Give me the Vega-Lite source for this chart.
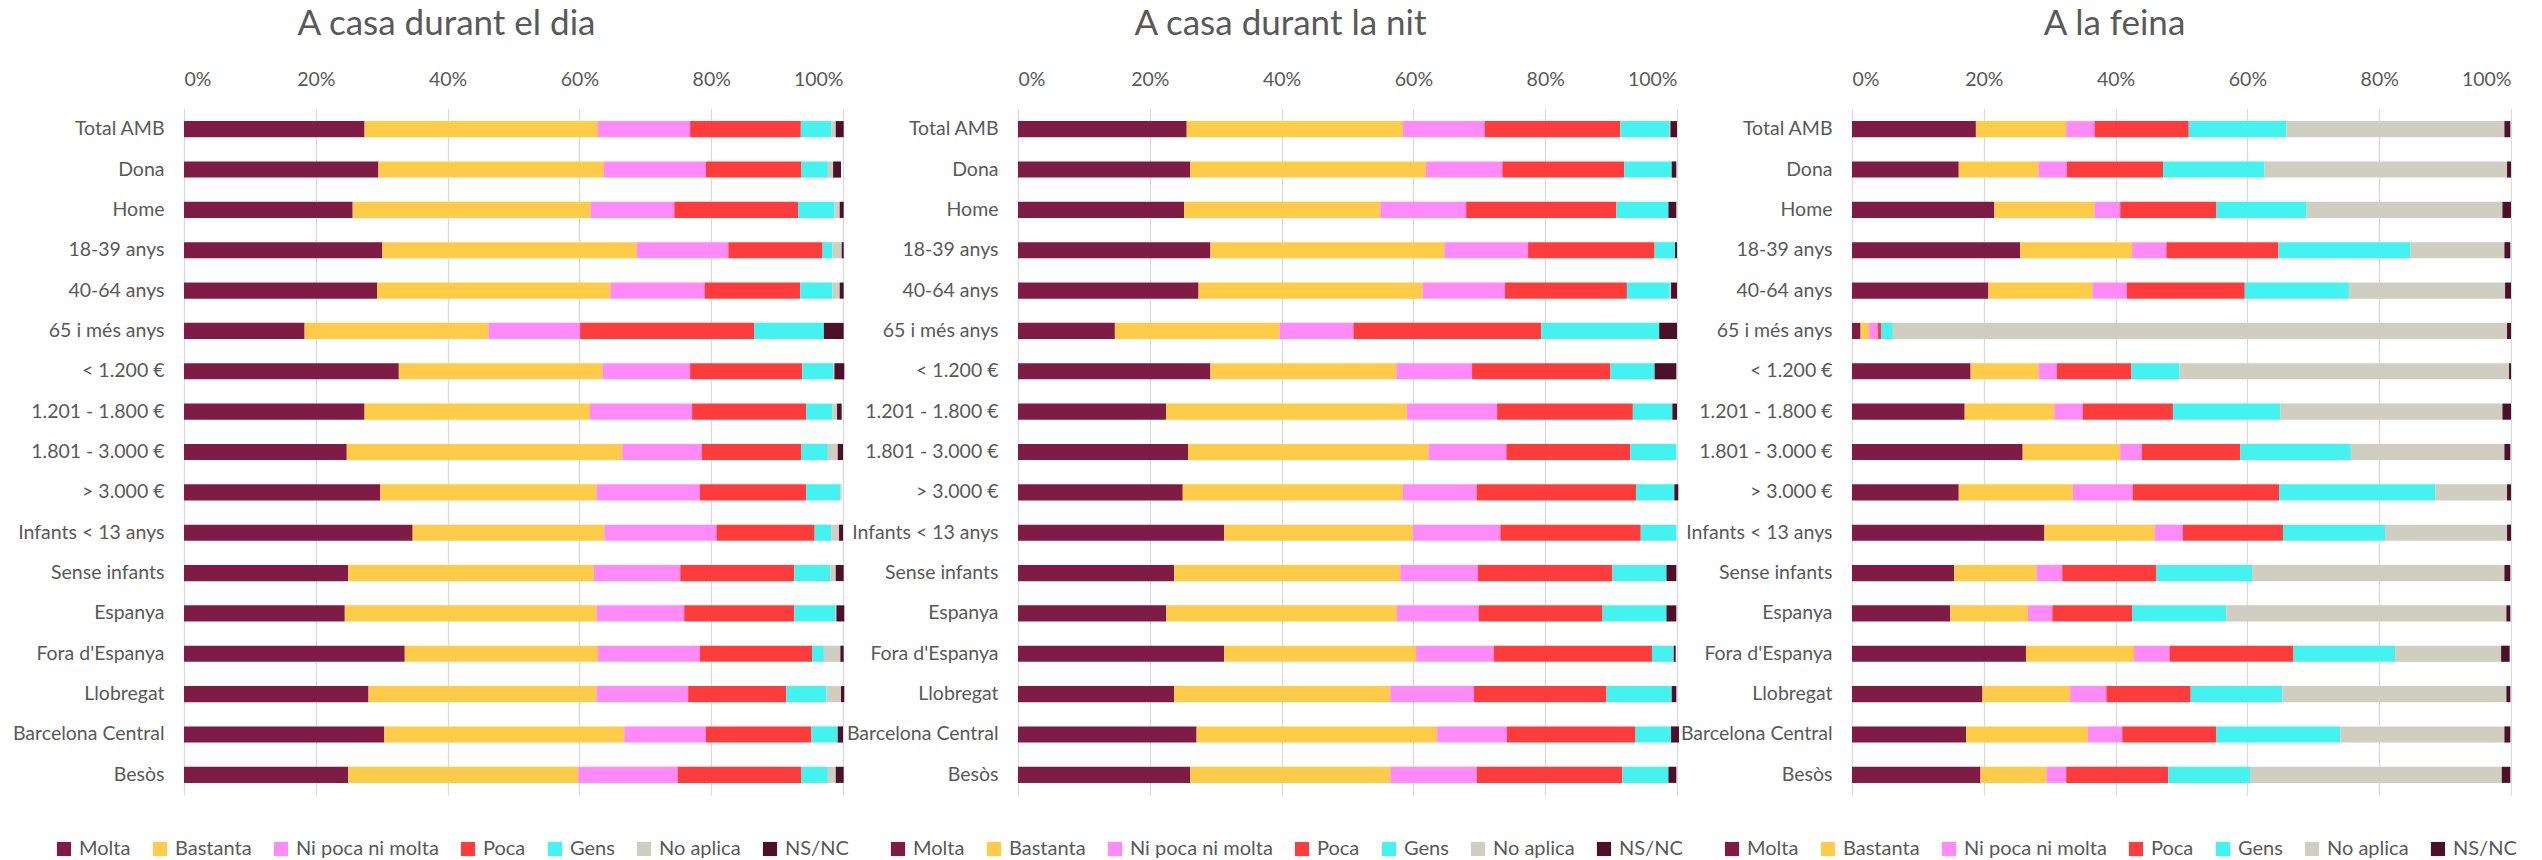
{
  "$schema": "https://vega.github.io/schema/vega-lite/v6.json",
  "padding": {"left": 12, "top": 7, "right": 5, "bottom": 0},
  "background": "white",
  "datasets": {
    "dia": [
      {"g": "Total AMB", "Molta": 27.4, "Bastanta": 35.4, "Ni poca ni molta": 14.0, "Poca": 16.8, "Gens": 4.6, "No aplica": 0.7, "NS/NC": 1.2},
      {"g": "Dona", "Molta": 29.5, "Bastanta": 34.2, "Ni poca ni molta": 15.5, "Poca": 14.5, "Gens": 4.0, "No aplica": 0.8, "NS/NC": 1.2},
      {"g": "Home", "Molta": 25.6, "Bastanta": 36.1, "Ni poca ni molta": 12.7, "Poca": 18.8, "Gens": 5.5, "No aplica": 0.8, "NS/NC": 0.6},
      {"g": "18-39 anys", "Molta": 30.1, "Bastanta": 38.6, "Ni poca ni molta": 13.9, "Poca": 14.3, "Gens": 1.5, "No aplica": 1.4, "NS/NC": 0.3},
      {"g": "40-64 anys", "Molta": 29.3, "Bastanta": 35.4, "Ni poca ni molta": 14.3, "Poca": 14.5, "Gens": 4.9, "No aplica": 1.1, "NS/NC": 0.6},
      {"g": "65 i més anys", "Molta": 18.3, "Bastanta": 27.9, "Ni poca ni molta": 13.9, "Poca": 26.4, "Gens": 10.6, "No aplica": 0, "NS/NC": 3.0},
      {"g": "< 1.200 €", "Molta": 32.6, "Bastanta": 30.9, "Ni poca ni molta": 13.3, "Poca": 17.0, "Gens": 4.7, "No aplica": 0.2, "NS/NC": 1.5},
      {"g": "1.201 - 1.800 €", "Molta": 27.4, "Bastanta": 34.2, "Ni poca ni molta": 15.5, "Poca": 17.3, "Gens": 4.0, "No aplica": 0.7, "NS/NC": 0.7},
      {"g": "1.801 - 3.000 €", "Molta": 24.7, "Bastanta": 41.8, "Ni poca ni molta": 12.1, "Poca": 15.1, "Gens": 4.0, "No aplica": 1.5, "NS/NC": 0.8},
      {"g": "> 3.000 €", "Molta": 29.8, "Bastanta": 32.8, "Ni poca ni molta": 15.7, "Poca": 16.1, "Gens": 5.2, "No aplica": 0.2, "NS/NC": 0},
      {"g": "Infants < 13 anys", "Molta": 34.7, "Bastanta": 29.1, "Ni poca ni molta": 17.0, "Poca": 14.9, "Gens": 2.5, "No aplica": 1.2, "NS/NC": 0.6},
      {"g": "Sense infants", "Molta": 24.9, "Bastanta": 37.3, "Ni poca ni molta": 13.1, "Poca": 17.3, "Gens": 5.5, "No aplica": 0.8, "NS/NC": 1.2},
      {"g": "Espanya", "Molta": 24.4, "Bastanta": 38.2, "Ni poca ni molta": 13.3, "Poca": 16.7, "Gens": 6.2, "No aplica": 0.2, "NS/NC": 1.2},
      {"g": "Fora d'Espanya", "Molta": 33.5, "Bastanta": 29.3, "Ni poca ni molta": 15.5, "Poca": 17.0, "Gens": 1.8, "No aplica": 2.5, "NS/NC": 0.5},
      {"g": "Llobregat", "Molta": 28.0, "Bastanta": 34.6, "Ni poca ni molta": 13.9, "Poca": 14.9, "Gens": 6.1, "No aplica": 2.2, "NS/NC": 0.5},
      {"g": "Barcelona Central", "Molta": 30.4, "Bastanta": 36.4, "Ni poca ni molta": 12.4, "Poca": 16.0, "Gens": 4.0, "No aplica": 0, "NS/NC": 0.8},
      {"g": "Besòs", "Molta": 24.9, "Bastanta": 34.9, "Ni poca ni molta": 15.1, "Poca": 18.8, "Gens": 4.0, "No aplica": 1.2, "NS/NC": 1.2}
    ],
    "nit": [
      {"g": "Total AMB", "Molta": 25.6, "Bastanta": 32.8, "Ni poca ni molta": 12.4, "Poca": 20.6, "Gens": 7.4, "No aplica": 0.2, "NS/NC": 1.0},
      {"g": "Dona", "Molta": 26.1, "Bastanta": 35.8, "Ni poca ni molta": 11.6, "Poca": 18.5, "Gens": 7.2, "No aplica": 0, "NS/NC": 0.7},
      {"g": "Home", "Molta": 25.2, "Bastanta": 29.8, "Ni poca ni molta": 13.0, "Poca": 22.8, "Gens": 7.9, "No aplica": 0, "NS/NC": 1.2},
      {"g": "18-39 anys", "Molta": 29.2, "Bastanta": 35.5, "Ni poca ni molta": 12.7, "Poca": 19.2, "Gens": 3.1, "No aplica": 0, "NS/NC": 0.3},
      {"g": "40-64 anys", "Molta": 27.4, "Bastanta": 34.0, "Ni poca ni molta": 12.5, "Poca": 18.5, "Gens": 6.5, "No aplica": 0.2, "NS/NC": 0.9},
      {"g": "65 i més anys", "Molta": 14.7, "Bastanta": 25.0, "Ni poca ni molta": 11.2, "Poca": 28.5, "Gens": 17.9, "No aplica": 0, "NS/NC": 2.7},
      {"g": "< 1.200 €", "Molta": 29.2, "Bastanta": 28.2, "Ni poca ni molta": 11.5, "Poca": 21.0, "Gens": 6.7, "No aplica": 0, "NS/NC": 3.3},
      {"g": "1.201 - 1.800 €", "Molta": 22.5, "Bastanta": 36.5, "Ni poca ni molta": 13.7, "Poca": 20.6, "Gens": 6.0, "No aplica": 0, "NS/NC": 0.7},
      {"g": "1.801 - 3.000 €", "Molta": 25.8, "Bastanta": 36.5, "Ni poca ni molta": 11.8, "Poca": 18.8, "Gens": 7.0, "No aplica": 0, "NS/NC": 0},
      {"g": "> 3.000 €", "Molta": 25.0, "Bastanta": 33.4, "Ni poca ni molta": 11.2, "Poca": 24.2, "Gens": 5.8, "No aplica": 0, "NS/NC": 0.6},
      {"g": "Infants < 13 anys", "Molta": 31.3, "Bastanta": 28.6, "Ni poca ni molta": 13.3, "Poca": 21.3, "Gens": 5.4, "No aplica": 0, "NS/NC": 0},
      {"g": "Sense infants", "Molta": 23.7, "Bastanta": 34.3, "Ni poca ni molta": 11.8, "Poca": 20.4, "Gens": 8.2, "No aplica": 0, "NS/NC": 1.5},
      {"g": "Espanya", "Molta": 22.5, "Bastanta": 35.0, "Ni poca ni molta": 12.4, "Poca": 18.8, "Gens": 9.7, "No aplica": 0, "NS/NC": 1.5},
      {"g": "Fora d'Espanya", "Molta": 31.3, "Bastanta": 29.1, "Ni poca ni molta": 11.8, "Poca": 24.0, "Gens": 3.2, "No aplica": 0.1, "NS/NC": 0.3},
      {"g": "Llobregat", "Molta": 23.7, "Bastanta": 32.8, "Ni poca ni molta": 12.7, "Poca": 20.1, "Gens": 9.9, "No aplica": 0, "NS/NC": 0.7},
      {"g": "Barcelona Central", "Molta": 27.1, "Bastanta": 36.5, "Ni poca ni molta": 10.6, "Poca": 19.5, "Gens": 5.4, "No aplica": 0, "NS/NC": 1.2},
      {"g": "Besòs", "Molta": 26.1, "Bastanta": 30.4, "Ni poca ni molta": 13.1, "Poca": 22.1, "Gens": 7.0, "No aplica": 0, "NS/NC": 1.2}
    ],
    "feina": [
      {"g": "Total AMB", "Molta": 18.8, "Bastanta": 13.7, "Ni poca ni molta": 4.3, "Poca": 14.3, "Gens": 14.8, "No aplica": 33.1, "NS/NC": 0.9},
      {"g": "Dona", "Molta": 16.2, "Bastanta": 12.1, "Ni poca ni molta": 4.3, "Poca": 14.6, "Gens": 15.4, "No aplica": 36.8, "NS/NC": 0.6},
      {"g": "Home", "Molta": 21.6, "Bastanta": 15.2, "Ni poca ni molta": 3.9, "Poca": 14.6, "Gens": 13.7, "No aplica": 29.7, "NS/NC": 1.3},
      {"g": "18-39 anys", "Molta": 25.5, "Bastanta": 17.0, "Ni poca ni molta": 5.2, "Poca": 17.0, "Gens": 20.0, "No aplica": 14.3, "NS/NC": 0.9},
      {"g": "40-64 anys", "Molta": 20.7, "Bastanta": 15.8, "Ni poca ni molta": 5.2, "Poca": 17.9, "Gens": 15.8, "No aplica": 23.7, "NS/NC": 0.9},
      {"g": "65 i més anys", "Molta": 1.3, "Bastanta": 1.3, "Ni poca ni molta": 1.3, "Poca": 0.5, "Gens": 1.8, "No aplica": 93.2, "NS/NC": 0.6},
      {"g": "< 1.200 €", "Molta": 18.0, "Bastanta": 10.3, "Ni poca ni molta": 2.8, "Poca": 11.3, "Gens": 7.3, "No aplica": 50.0, "NS/NC": 0.3},
      {"g": "1.201 - 1.800 €", "Molta": 17.1, "Bastanta": 13.6, "Ni poca ni molta": 4.3, "Poca": 13.7, "Gens": 16.3, "No aplica": 33.7, "NS/NC": 1.3},
      {"g": "1.801 - 3.000 €", "Molta": 25.9, "Bastanta": 14.8, "Ni poca ni molta": 3.3, "Poca": 14.9, "Gens": 16.8, "No aplica": 23.3, "NS/NC": 0.9},
      {"g": "> 3.000 €", "Molta": 16.2, "Bastanta": 17.3, "Ni poca ni molta": 9.1, "Poca": 22.2, "Gens": 23.7, "No aplica": 10.9, "NS/NC": 0.6},
      {"g": "Infants < 13 anys", "Molta": 29.2, "Bastanta": 16.7, "Ni poca ni molta": 4.3, "Poca": 15.2, "Gens": 15.5, "No aplica": 18.5, "NS/NC": 0.6},
      {"g": "Sense infants", "Molta": 15.5, "Bastanta": 12.5, "Ni poca ni molta": 3.9, "Poca": 14.3, "Gens": 14.5, "No aplica": 38.3, "NS/NC": 0.9},
      {"g": "Espanya", "Molta": 14.9, "Bastanta": 11.8, "Ni poca ni molta": 3.7, "Poca": 12.1, "Gens": 14.3, "No aplica": 42.5, "NS/NC": 0.6},
      {"g": "Fora d'Espanya", "Molta": 26.4, "Bastanta": 16.4, "Ni poca ni molta": 5.4, "Poca": 18.8, "Gens": 15.4, "No aplica": 16.1, "NS/NC": 1.3},
      {"g": "Llobregat", "Molta": 19.8, "Bastanta": 13.3, "Ni poca ni molta": 5.5, "Poca": 12.8, "Gens": 13.9, "No aplica": 34.0, "NS/NC": 0.6},
      {"g": "Barcelona Central", "Molta": 17.3, "Bastanta": 18.5, "Ni poca ni molta": 5.2, "Poca": 14.3, "Gens": 18.8, "No aplica": 24.9, "NS/NC": 0.9},
      {"g": "Besòs", "Molta": 19.5, "Bastanta": 10.0, "Ni poca ni molta": 3.0, "Poca": 15.5, "Gens": 12.4, "No aplica": 38.2, "NS/NC": 1.3}
    ]
  },
  "config": {
    "font": "Lato",
    "view": {"stroke": null},
    "axis": {"labelFont": "Lato", "labelColor": "#595959", "labelFontSize": 19.5, "domain": false, "ticks": false, "tickSize": 0, "gridColor": "#d9d9d9", "gridWidth": 1.2, "titleFont": "Lato"},
    "axisY": {"grid": false, "labelPadding": 20, "labelLimit": 400},
    "axisX": {"labelPadding": 20, "grid": true},
    "title": {"font": "Lato", "fontSize": 35, "fontWeight": "normal", "color": "#595959", "anchor": "middle", "frame": "group", "offset": 27},
    "legend": {"labelFont": "Lato", "labelFontSize": 20, "labelColor": "#595959", "symbolType": "square", "symbolSize": 200, "symbolStrokeWidth": 0, "columnPadding": 19, "labelOffset": 5, "labelLimit": 400}
  },
  "spacing": 175,
  "bounds": "flush",
  "resolve": {"legend": {"color": "independent"}},
  "hconcat": [
    {
      "data": {"name": "dia"},
      "transform": [
        {"fold": ["Molta", "Bastanta", "Ni poca ni molta", "Poca", "Gens", "No aplica", "NS/NC"], "as": ["Resposta", "Percentatge"]},
        {"calculate": "indexof(['Molta', 'Bastanta', 'Ni poca ni molta', 'Poca', 'Gens', 'No aplica', 'NS/NC'], datum.Resposta)", "as": "ordre"}
      ],
      "title": {"text": "A casa durant el dia", "dx": -67},
      "width": 659,
      "height": 686,
      "mark": {"type": "bar"},
      "encoding": {
        "y": {"field": "g", "type": "nominal", "title": null, "sort": ["Total AMB", "Dona", "Home", "18-39 anys", "40-64 anys", "65 i més anys", "< 1.200 €", "1.201 - 1.800 €", "1.801 - 3.000 €", "> 3.000 €", "Infants < 13 anys", "Sense infants", "Espanya", "Fora d'Espanya", "Llobregat", "Barcelona Central", "Besòs"], "scale": {"paddingInner": 0.6, "paddingOuter": 0.3}},
        "x": {"field": "Percentatge", "type": "quantitative", "stack": "zero", "title": null, "scale": {"domain": [0, 100], "nice": false}, "axis": {"orient": "top", "values": [0, 20, 40, 60, 80, 100], "labelExpr": "datum.value + '%'"}},
        "order": {"field": "ordre", "type": "quantitative", "sort": "ascending"},
        "color": {"field": "Resposta", "type": "nominal", "sort": ["Molta", "Bastanta", "Ni poca ni molta", "Poca", "Gens", "No aplica", "NS/NC"], "scale": {"domain": ["Molta", "Bastanta", "Ni poca ni molta", "Poca", "Gens", "No aplica", "NS/NC"], "range": ["#7f1c45", "#ffcc4a", "#ff8af8", "#ff3c3c", "#44f2f0", "#d0cdc1", "#4c1029"]}, "legend": {"title": null, "orient": "none", "direction": "horizontal", "columns": 7, "legendX": -130, "legendY": 730}}
      }
    },
    {
      "data": {"name": "nit"},
      "transform": [
        {"fold": ["Molta", "Bastanta", "Ni poca ni molta", "Poca", "Gens", "No aplica", "NS/NC"], "as": ["Resposta", "Percentatge"]},
        {"calculate": "indexof(['Molta', 'Bastanta', 'Ni poca ni molta', 'Poca', 'Gens', 'No aplica', 'NS/NC'], datum.Resposta)", "as": "ordre"}
      ],
      "title": {"text": "A casa durant la nit", "dx": -67},
      "width": 659,
      "height": 686,
      "mark": {"type": "bar"},
      "encoding": {
        "y": {"field": "g", "type": "nominal", "title": null, "sort": ["Total AMB", "Dona", "Home", "18-39 anys", "40-64 anys", "65 i més anys", "< 1.200 €", "1.201 - 1.800 €", "1.801 - 3.000 €", "> 3.000 €", "Infants < 13 anys", "Sense infants", "Espanya", "Fora d'Espanya", "Llobregat", "Barcelona Central", "Besòs"], "scale": {"paddingInner": 0.6, "paddingOuter": 0.3}},
        "x": {"field": "Percentatge", "type": "quantitative", "stack": "zero", "title": null, "scale": {"domain": [0, 100], "nice": false}, "axis": {"orient": "top", "values": [0, 20, 40, 60, 80, 100], "labelExpr": "datum.value + '%'"}},
        "order": {"field": "ordre", "type": "quantitative", "sort": "ascending"},
        "color": {"field": "Resposta", "type": "nominal", "sort": ["Molta", "Bastanta", "Ni poca ni molta", "Poca", "Gens", "No aplica", "NS/NC"], "scale": {"domain": ["Molta", "Bastanta", "Ni poca ni molta", "Poca", "Gens", "No aplica", "NS/NC"], "range": ["#7f1c45", "#ffcc4a", "#ff8af8", "#ff3c3c", "#44f2f0", "#d0cdc1", "#4c1029"]}, "legend": {"title": null, "orient": "none", "direction": "horizontal", "columns": 7, "legendX": -130, "legendY": 730}}
      }
    },
    {
      "data": {"name": "feina"},
      "transform": [
        {"fold": ["Molta", "Bastanta", "Ni poca ni molta", "Poca", "Gens", "No aplica", "NS/NC"], "as": ["Resposta", "Percentatge"]},
        {"calculate": "indexof(['Molta', 'Bastanta', 'Ni poca ni molta', 'Poca', 'Gens', 'No aplica', 'NS/NC'], datum.Resposta)", "as": "ordre"}
      ],
      "title": {"text": "A la feina", "dx": -67},
      "width": 659,
      "height": 686,
      "mark": {"type": "bar"},
      "encoding": {
        "y": {"field": "g", "type": "nominal", "title": null, "sort": ["Total AMB", "Dona", "Home", "18-39 anys", "40-64 anys", "65 i més anys", "< 1.200 €", "1.201 - 1.800 €", "1.801 - 3.000 €", "> 3.000 €", "Infants < 13 anys", "Sense infants", "Espanya", "Fora d'Espanya", "Llobregat", "Barcelona Central", "Besòs"], "scale": {"paddingInner": 0.6, "paddingOuter": 0.3}},
        "x": {"field": "Percentatge", "type": "quantitative", "stack": "zero", "title": null, "scale": {"domain": [0, 100], "nice": false}, "axis": {"orient": "top", "values": [0, 20, 40, 60, 80, 100], "labelExpr": "datum.value + '%'"}},
        "order": {"field": "ordre", "type": "quantitative", "sort": "ascending"},
        "color": {"field": "Resposta", "type": "nominal", "sort": ["Molta", "Bastanta", "Ni poca ni molta", "Poca", "Gens", "No aplica", "NS/NC"], "scale": {"domain": ["Molta", "Bastanta", "Ni poca ni molta", "Poca", "Gens", "No aplica", "NS/NC"], "range": ["#7f1c45", "#ffcc4a", "#ff8af8", "#ff3c3c", "#44f2f0", "#d0cdc1", "#4c1029"]}, "legend": {"title": null, "orient": "none", "direction": "horizontal", "columns": 7, "legendX": -130, "legendY": 730}}
      }
    }
  ]
}
